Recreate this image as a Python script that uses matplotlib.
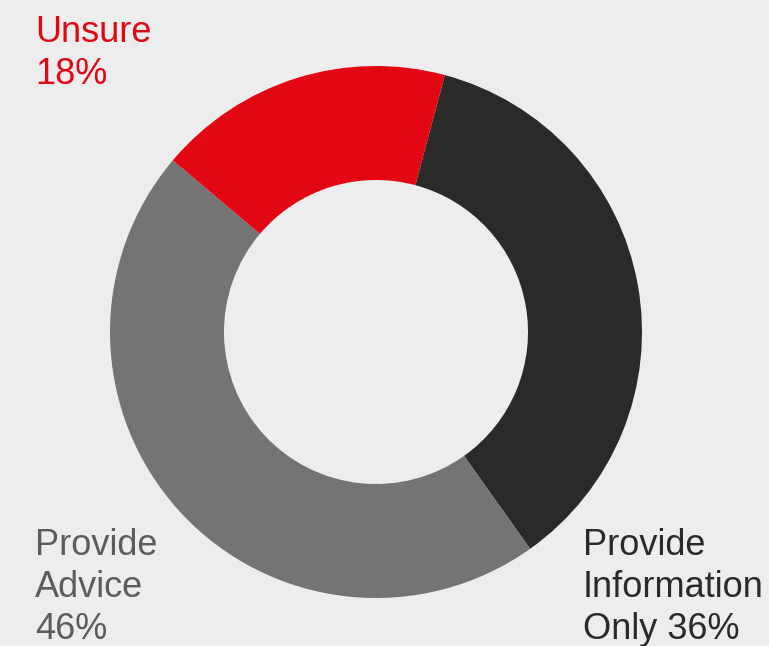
import matplotlib
matplotlib.use("Agg")
import matplotlib.pyplot as plt

categories = ["Provide Information Only", "Provide Advice", "Unsure"]
values = [36, 46, 18]
colors = ["#2a2a28", "#747474", "#e30613"]
label_texts = ["Provide\nInformation\nOnly 36%", "Provide\nAdvice\n46%", "Unsure\n18%"]
label_colors = ["#2a2a2a", "#5c5c5c", "#e30613"]

W, H = 769, 646
fig = plt.figure(figsize=(W / 100, H / 100), dpi=100, facecolor="#ededed")
ax = fig.add_axes([0, 0, 1, 1])
ax.set_facecolor("#ededed")

ax.pie(values, colors=colors, startangle=75, counterclock=False,
       center=(376, H - 332), radius=266,
       wedgeprops=dict(width=114, linewidth=0), frame=True)
ax.set_xlim(0, W)
ax.set_ylim(0, H)
ax.set_aspect("equal")
ax.axis("off")

font = "Liberation Sans"
pos = [(583, 528), (35, 528), (35, 15)]
for txt, col, (x, y) in zip(label_texts, label_colors, pos):
    ax.text(x, H - y, txt, color=col, fontsize=26, family=font,
            ha="left", va="top", linespacing=1.26)

fig.savefig("out.png", dpi=100, facecolor=fig.get_facecolor())
